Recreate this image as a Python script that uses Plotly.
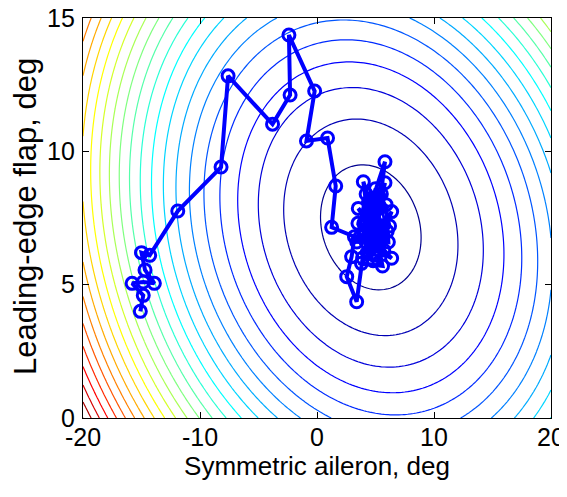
import numpy as np
import plotly.graph_objects as go

x_center = 4.6
y_center = 7.15
coef_xx = 1 / 36.0
coef_yy = 1 / 10.7
coef_xy = 0.3 / 36.0
level_start = 0.5
level_step = 1.0

grid_x = np.linspace(-20, 20, 161)
grid_y = np.linspace(0, 15, 121)
GX, GY = np.meshgrid(grid_x, grid_y)
DX = GX - x_center
DY = GY - y_center
cost = coef_xx * DX**2 + coef_yy * DY**2 + 2 * coef_xy * DX * DY
level_end = level_start + level_step * np.floor((cost.max() - level_start) / level_step)

# ---- search path (symmetric aileron, leading-edge flap) ----
path_x = [-15.1, -14.85, -15.8, -14.85, -13.9, -14.7, -15.0, -14.3,
          -11.9, -8.2, -7.6, -3.8, -2.3, -2.4, -0.2, -0.9, 0.9, 1.6, 1.25,
          3.2, 2.96, 2.54, 3.39, 3.9, 4.5, 3.96, 4.6, 5.81, 5.2, 5.81, 4.8,
          3.53, 5.0, 6.38, 5.3, 6.38, 4.7, 5.5, 4.4, 5.0, 4.2, 5.6, 4.9, 4.6,
          5.3, 4.4, 5.1, 4.0, 5.7, 4.8, 4.3, 5.4, 4.9, 4.5, 5.2, 4.7, 5.0,
          4.1, 5.5, 4.8, 4.6, 3.5, 6.0, 3.7, 6.1, 5.9, 3.4, 4.2, 5.5, 6.2,
          3.8, 5.6, 4.9]
path_y = [4.0, 4.6, 5.05, 5.1, 5.05, 5.55, 6.2, 6.1,
          7.76, 9.41, 12.83, 11.02, 12.11, 14.36, 12.26, 10.39, 10.5, 8.7, 7.15,
          6.8, 6.05, 5.3, 4.36, 6.0, 7.0, 8.86, 8.0, 9.61, 7.5, 8.82, 7.3,
          7.86, 6.8, 7.74, 6.5, 5.99, 6.4, 7.2, 7.6, 7.0, 6.6, 6.9, 7.4, 6.9,
          8.3, 8.1, 7.0, 7.3, 6.3, 5.9, 6.2, 7.9, 6.1, 6.8, 6.5, 7.7, 8.6,
          6.9, 6.7, 7.1, 6.6, 7.3, 7.0, 6.8, 6.6, 8.0, 6.6, 8.4, 8.4, 7.2,
          5.8, 5.7, 7.2]

x_ticks = [-20, -10, 0, 10, 20]
y_ticks = [0, 5, 10, 15]

jet = [[0.0, "rgb(0,0,143)"], [0.125, "rgb(0,0,255)"], [0.375, "rgb(0,255,255)"],
       [0.625, "rgb(255,255,0)"], [0.875, "rgb(255,0,0)"], [1.0, "rgb(128,0,0)"]]

fig = go.Figure()
fig.add_trace(go.Contour(
    x=grid_x, y=grid_y, z=cost, autocontour=False,
    contours=dict(coloring="lines", start=level_start, end=float(level_end),
                  size=level_step, showlabels=False),
    colorscale=jet, zmin=level_start, zmax=float(level_end),
    line=dict(width=1.2, smoothing=0),
    showscale=False, hoverinfo="skip",
))
fig.add_trace(go.Scatter(
    x=path_x, y=path_y, mode="lines+markers",
    line=dict(color="rgb(0,0,255)", width=4),
    marker=dict(symbol="circle-open", size=12, color="rgb(0,0,255)",
                line=dict(width=3, color="rgb(0,0,255)")),
    showlegend=False,
))

fam = "Liberation Sans, Arial, sans-serif"
# the page body has an 8px default margin; figure size/margins compensate for it
fig.update_layout(
    width=559, height=481,
    margin=dict(l=75, r=16, t=10, b=71),
    paper_bgcolor="white", plot_bgcolor="white",
    font=dict(family=fam, size=25, color="black"),
    showlegend=False,
    annotations=[dict(
        text="Leading-edge flap, deg", textangle=-90,
        xref="paper", yref="paper", x=-0.124, y=0.505,
        xanchor="center", yanchor="middle", showarrow=False,
        font=dict(family=fam, size=31, color="black"),
    )],
)
fig.update_xaxes(
    range=[-20, 20], tickvals=x_ticks, ticktext=[str(v) for v in x_ticks],
    showgrid=False, zeroline=False, showline=True, linecolor="black", linewidth=1.2,
    mirror="ticks", ticks="inside", ticklen=6, tickcolor="black", automargin=False,
    ticklabelstandoff=-3, ticklabeloverflow="allow",
    title=dict(text="Symmetric aileron, deg", font=dict(size=26), standoff=0),
    tickfont=dict(size=25),
)
fig.update_yaxes(
    range=[0, 15], tickvals=y_ticks, ticktext=[str(v) for v in y_ticks],
    showgrid=False, zeroline=False, showline=True, linecolor="black", linewidth=1.2,
    mirror="ticks", ticks="inside", ticklen=6, tickcolor="black", automargin=False,
    ticklabelstandoff=2, ticklabeloverflow="allow",
    tickfont=dict(size=25),
)
fig.write_html("out.html")
